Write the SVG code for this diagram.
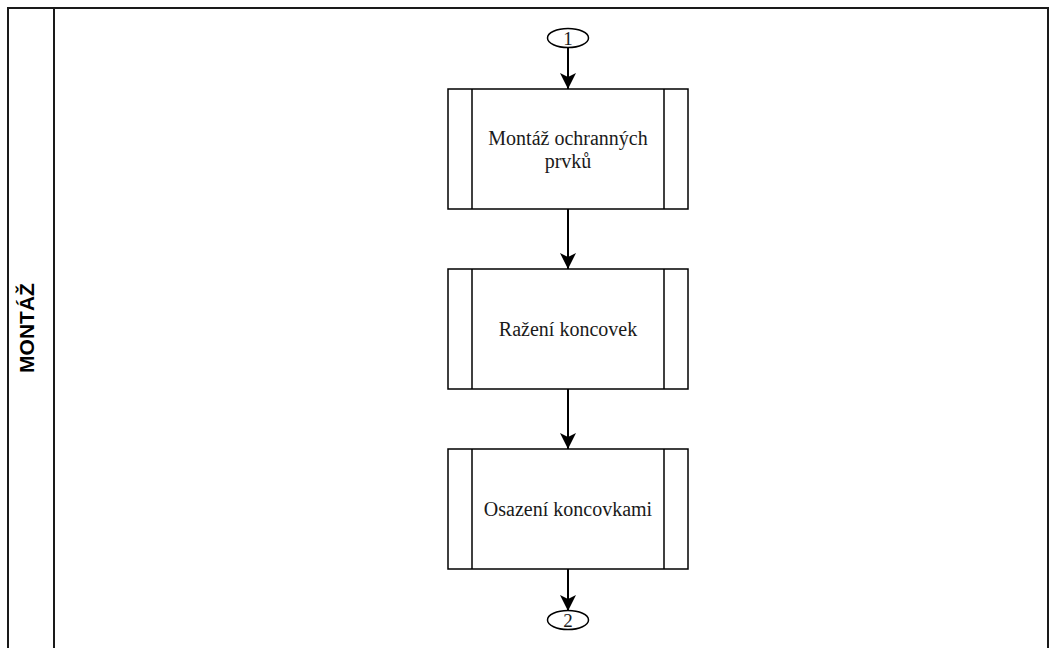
<svg xmlns="http://www.w3.org/2000/svg" width="1049" height="648" viewBox="0 0 1049 648">
  <style>
    .lane { fill: none; stroke: #1a1a1a; stroke-width: 2; }
    .box { fill: #ffffff; stroke: #000000; stroke-width: 1.5; }
    .edge { fill: none; stroke: #000000; stroke-width: 2; }
    .conn { fill: #ffffff; stroke: #000000; stroke-width: 1.5; }
    .label { font-family: "Liberation Serif", "Times New Roman", serif; font-size: 20px; fill: #1a1a1a; text-anchor: middle; }
    .num { font-family: "Liberation Serif", "Times New Roman", serif; font-size: 19px; fill: #1a1a1a; text-anchor: middle; }
    .title { font-family: "Liberation Sans", Arial, sans-serif; font-size: 21px; font-weight: bold; fill: #000000; text-anchor: middle; }
  </style>
  <defs>
    <marker id="arrow" viewBox="0 0 16 16" refX="16" refY="8" markerWidth="16" markerHeight="16" markerUnits="userSpaceOnUse" orient="auto">
      <path d="M0,0 L16,8 L0,16 L4,8 Z" fill="#000000"/>
    </marker>
  </defs>

  <rect width="1049" height="648" fill="#ffffff"/>

  <!-- swimlane -->
  <g id="lane">
    <path class="lane" d="M8,660 L8,8 L1048,8 L1048,660"/>
    <line class="lane" x1="54" y1="8" x2="54" y2="660"/>
    <text class="title" transform="translate(34,328) rotate(-90)">MONTÁŽ</text>
  </g>

  <!-- connectors -->
  <g id="edges">
    <line class="edge" x1="568" y1="47" x2="568" y2="89" marker-end="url(#arrow)"/>
    <line class="edge" x1="568" y1="209" x2="568" y2="269" marker-end="url(#arrow)"/>
    <line class="edge" x1="568" y1="389" x2="568" y2="449" marker-end="url(#arrow)"/>
    <line class="edge" x1="568" y1="569" x2="568" y2="611" marker-end="url(#arrow)"/>
  </g>

  <!-- off-page connector in -->
  <g id="start">
    <ellipse class="conn" cx="568" cy="38" rx="20.5" ry="9.5"/>
    <text class="num" x="568" y="44.5">1</text>
  </g>

  <g id="step1">
    <rect class="box" x="448" y="89" width="240" height="120"/>
    <line class="box" x1="472" y1="89" x2="472" y2="209"/>
    <line class="box" x1="664" y1="89" x2="664" y2="209"/>
    <text class="label" x="568" y="145">Montáž ochranných</text>
    <text class="label" x="568" y="168">prvků</text>
  </g>

  <g id="step2">
    <rect class="box" x="448" y="269" width="240" height="120"/>
    <line class="box" x1="472" y1="269" x2="472" y2="389"/>
    <line class="box" x1="664" y1="269" x2="664" y2="389"/>
    <text class="label" x="568" y="336">Ražení koncovek</text>
  </g>

  <g id="step3">
    <rect class="box" x="448" y="449" width="240" height="120"/>
    <line class="box" x1="472" y1="449" x2="472" y2="569"/>
    <line class="box" x1="664" y1="449" x2="664" y2="569"/>
    <text class="label" x="568" y="516">Osazení koncovkami</text>
  </g>

  <!-- off-page connector out -->
  <g id="end">
    <ellipse class="conn" cx="568" cy="620" rx="20.5" ry="9.5"/>
    <text class="num" x="568" y="626.5">2</text>
  </g>
</svg>
